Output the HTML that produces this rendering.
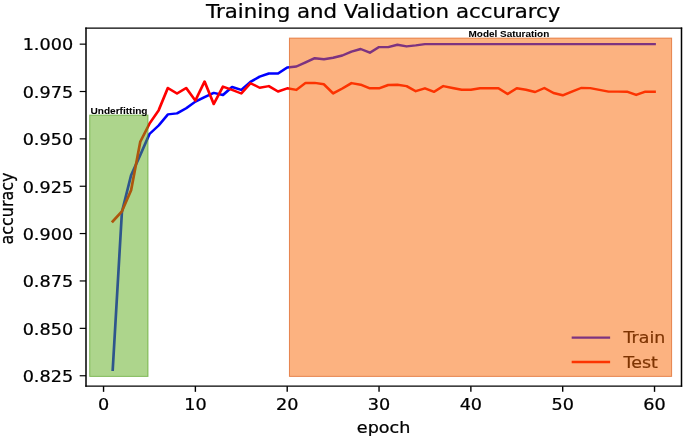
<!DOCTYPE html>
<html><head><meta charset="utf-8"><title>Training and Validation accurarcy</title>
<style>
html,body{margin:0;padding:0;background:#fff;}
svg{display:block;}
text{font-family:"DejaVu Sans","Liberation Sans",sans-serif;fill:#000;stroke:#000;stroke-width:0.24px;stroke-linejoin:round;}
.b{font-family:"Liberation Sans","DejaVu Sans",sans-serif;font-weight:bold;stroke-width:0.05px;}
</style></head><body>
<svg width="685" height="439" viewBox="0 0 685 439">
<rect x="0" y="0" width="685" height="439" fill="#fff"/>
<g><line x1="572.9" y1="337.6" x2="608.9" y2="337.6" stroke="#0000ff" stroke-linecap="square" stroke-width="2.45"/><line x1="572.9" y1="361.9" x2="608.9" y2="361.9" stroke="#ff0000" stroke-linecap="square" stroke-width="2.45"/><text transform="translate(623.5,343.4) scale(1.147,1)" font-size="15.20" stroke-width="0.2">Train</text><text transform="translate(623.5,367.6) scale(1.147,1)" font-size="15.20" stroke-width="0.2">Test</text></g>
<polyline transform="scale(1.1,1)" fill="none" stroke="#0000ff" stroke-width="2.45" stroke-linejoin="round" stroke-linecap="square" points="102.48,369.80 110.83,212.00 119.18,175.20 127.53,155.00 135.88,134.00 144.23,125.50 152.57,114.40 160.92,113.40 169.27,108.20 177.62,101.60 185.97,97.20 194.31,92.90 202.66,95.00 211.01,87.00 219.36,89.90 227.71,81.90 236.06,76.60 244.40,73.50 252.75,73.50 261.10,67.50 269.45,66.50 277.80,62.40 286.14,58.20 294.49,59.20 302.84,57.70 311.19,55.50 319.54,51.60 327.89,49.00 336.23,52.70 344.58,47.10 352.93,47.10 361.28,44.70 369.63,46.40 377.97,45.40 386.32,44.10 394.67,44.10 403.02,44.10 411.37,44.10 419.72,44.10 428.06,44.10 436.41,44.10 444.76,44.10 453.11,44.10 461.46,44.10 469.80,44.10 478.15,44.10 486.50,44.10 494.85,44.10 503.20,44.10 511.55,44.10 519.89,44.10 528.24,44.10 536.59,44.10 544.94,44.10 553.29,44.10 561.63,44.10 569.98,44.10 578.33,44.10 586.68,44.10 595.03,44.10"/>
<polyline transform="scale(1.1,1)" fill="none" stroke="#ff0000" stroke-width="2.45" stroke-linejoin="round" stroke-linecap="square" points="102.48,221.40 110.83,211.40 119.18,190.30 127.53,141.80 135.88,123.70 144.23,110.30 152.57,88.00 160.92,93.60 169.27,88.00 177.62,100.60 185.97,81.50 194.31,104.00 202.66,86.60 211.01,89.80 219.36,93.50 227.71,83.20 236.06,87.80 244.40,86.10 252.75,91.50 261.10,88.30 269.45,89.90 277.80,82.90 286.14,82.90 294.49,84.30 302.84,93.40 311.19,88.50 319.54,83.10 327.89,84.70 336.23,88.30 344.58,88.30 352.93,85.00 361.28,84.70 369.63,86.10 377.97,91.20 386.32,88.30 394.67,91.80 403.02,86.10 411.37,88.00 419.72,89.80 428.06,89.80 436.41,88.30 444.76,88.30 453.11,88.30 461.46,93.90 469.80,88.30 478.15,89.80 486.50,92.00 494.85,88.00 503.20,93.00 511.55,95.30 519.89,91.70 528.24,88.00 536.59,88.10 544.94,89.90 553.29,91.60 561.63,91.60 569.98,91.70 578.33,94.90 586.68,91.70 595.03,91.70"/>
<rect x="89.7" y="115.1" width="58.30" height="261.30" fill="#5bab19" fill-opacity="0.5" stroke="#4a9a10" stroke-opacity="0.6" stroke-width="1"/>
<rect x="289.45" y="38.1" width="382.15" height="338.30" fill="#f96501" fill-opacity="0.5" stroke="#d9500a" stroke-opacity="0.62" stroke-width="1"/>
<text class="b" transform="translate(90.45,113.6) scale(1.085,1)" font-size="9.3">Underfitting</text>
<text class="b" transform="translate(468.5,36.9) scale(1.085,1)" font-size="9.2">Model Saturation</text>
<g stroke="#000" fill="none"><line x1="86.00" y1="27.55" x2="86.00" y2="386.70" stroke-width="1.5"/><line x1="681.50" y1="27.55" x2="681.50" y2="386.70" stroke-width="1.5"/><line x1="85.30" y1="28.10" x2="682.20" y2="28.10" stroke-width="1.2"/><line x1="85.30" y1="386.15" x2="682.20" y2="386.15" stroke-width="1.3"/><line x1="79.70" y1="44.15" x2="86.00" y2="44.15" stroke-width="1.2"/><line x1="79.70" y1="91.51" x2="86.00" y2="91.51" stroke-width="1.2"/><line x1="79.70" y1="138.85" x2="86.00" y2="138.85" stroke-width="1.2"/><line x1="79.70" y1="186.25" x2="86.00" y2="186.25" stroke-width="1.2"/><line x1="79.70" y1="233.55" x2="86.00" y2="233.55" stroke-width="1.2"/><line x1="79.70" y1="280.95" x2="86.00" y2="280.95" stroke-width="1.2"/><line x1="79.70" y1="328.35" x2="86.00" y2="328.35" stroke-width="1.2"/><line x1="79.70" y1="375.75" x2="86.00" y2="375.75" stroke-width="1.2"/><line x1="103.55" y1="386.15" x2="103.55" y2="391.85" stroke-width="1.4"/><line x1="195.38" y1="386.15" x2="195.38" y2="391.85" stroke-width="1.4"/><line x1="287.21" y1="386.15" x2="287.21" y2="391.85" stroke-width="1.4"/><line x1="379.04" y1="386.15" x2="379.04" y2="391.85" stroke-width="1.4"/><line x1="470.87" y1="386.15" x2="470.87" y2="391.85" stroke-width="1.4"/><line x1="562.70" y1="386.15" x2="562.70" y2="391.85" stroke-width="1.4"/><line x1="654.53" y1="386.15" x2="654.53" y2="391.85" stroke-width="1.4"/></g>
<text text-anchor="end" transform="translate(73.1,50.40) scale(1.175,1)" font-size="15.00">1.000</text>
<text text-anchor="end" transform="translate(73.1,97.76) scale(1.175,1)" font-size="15.00">0.975</text>
<text text-anchor="end" transform="translate(73.1,145.10) scale(1.175,1)" font-size="15.00">0.950</text>
<text text-anchor="end" transform="translate(73.1,192.50) scale(1.175,1)" font-size="15.00">0.925</text>
<text text-anchor="end" transform="translate(73.1,239.80) scale(1.175,1)" font-size="15.00">0.900</text>
<text text-anchor="end" transform="translate(73.1,287.20) scale(1.175,1)" font-size="15.00">0.875</text>
<text text-anchor="end" transform="translate(73.1,334.60) scale(1.175,1)" font-size="15.00">0.850</text>
<text text-anchor="end" transform="translate(73.1,382.00) scale(1.175,1)" font-size="15.00">0.825</text>
<text text-anchor="middle" transform="translate(103.55,409.9) scale(1.175,1)" font-size="15.00">0</text>
<text text-anchor="middle" transform="translate(195.38,409.9) scale(1.175,1)" font-size="15.00">10</text>
<text text-anchor="middle" transform="translate(287.21,409.9) scale(1.175,1)" font-size="15.00">20</text>
<text text-anchor="middle" transform="translate(379.04,409.9) scale(1.175,1)" font-size="15.00">30</text>
<text text-anchor="middle" transform="translate(470.87,409.9) scale(1.175,1)" font-size="15.00">40</text>
<text text-anchor="middle" transform="translate(562.70,409.9) scale(1.175,1)" font-size="15.00">50</text>
<text text-anchor="middle" transform="translate(654.53,409.9) scale(1.175,1)" font-size="15.00">60</text>
<text text-anchor="middle" transform="translate(383.6,432.7) scale(1.150,1)" font-size="15.30">epoch</text>
<text text-anchor="middle" transform="translate(12.7,208.5) scale(1.086,1) rotate(-90)" font-size="15.95">accuracy</text>
<text text-anchor="middle" transform="translate(383.2,17.7) scale(1.147,1)" font-size="18.6">Training and Validation accurarcy</text>
</svg>
</body></html>
